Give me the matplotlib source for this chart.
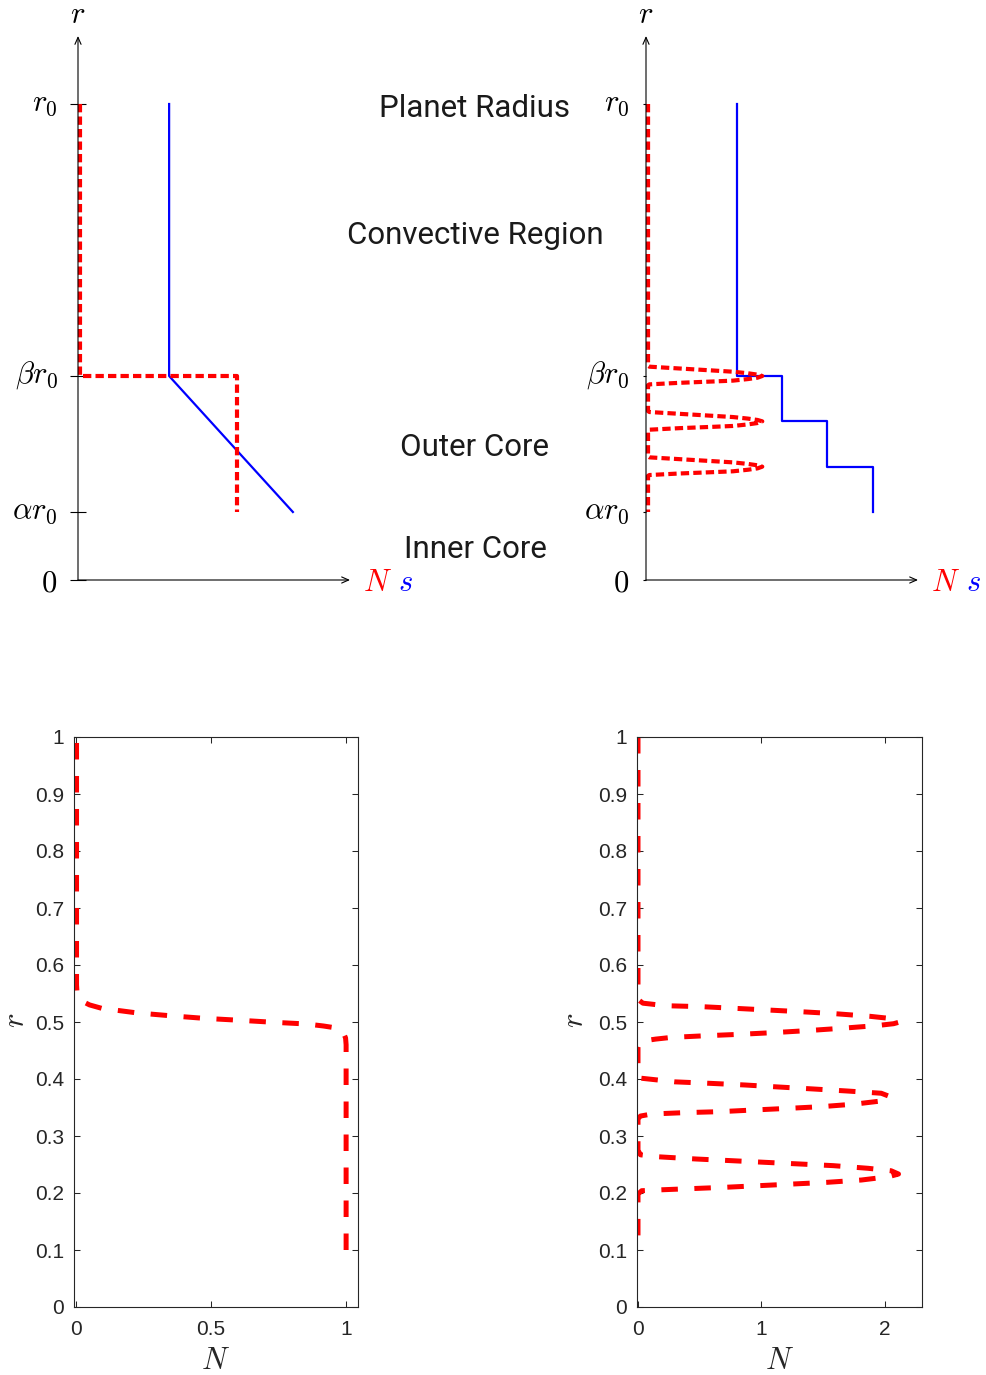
import matplotlib.pyplot as plt
from matplotlib.transforms import ScaledTranslation

plt.rcParams['mathtext.fontset'] = 'cm'
plt.rcParams['font.family'] = ['Liberation Sans', 'DejaVu Sans']

W, H = 987, 1375

# schematic radial levels (r0 = 7 units)
level_values = [0, 1, 3, 7]
level_labels = ['$0$', r'$\alpha r_0$', r'$\beta r_0$', '$r_0$']

# two-layer model: N (red) and s (blue)
n_two_x = [0.03, 0.03, 2.34, 2.34]
n_two_r = [7, 3, 3, 1]
s_two_x = [1.34, 1.34, 3.16]
s_two_r = [7, 3, 1]

# stepped model: s staircase and N spikes at each interface
s_step_x = [4 / 3, 4 / 3, 2, 2, 8 / 3, 8 / 3, 10 / 3, 10 / 3]
s_step_r = [7, 3, 3, 7 / 3, 7 / 3, 5 / 3, 5 / 3, 1]
interface_r = [3, 7 / 3, 5 / 3]
spike_n = [0.03, 0.05, 0.5, 1.0, 1.28, 1.5, 1.64, 1.71, 1.64, 1.5, 1.28, 1.0, 0.5, 0.05, 0.03]
spike_dr = [0.15, 0.137, 0.11, 0.08, 0.063, 0.04, 0.02, 0.0,
            -0.025, -0.045, -0.068, -0.08, -0.10, -0.123, -0.135]

region_names = ['Planet Radius', 'Convective Region', 'Outer Core', 'Inner Core']

# computed N(r), single interface
n_single = [1.0, 1.0, 0.998, 0.99, 0.975, 0.95, 0.916, 0.854, 0.731, 0.607, 0.472,
            0.348, 0.225, 0.095, 0.05, 0.025, 0.012, 0.004, 0.002, 0.002]
r_single = [0.10, 0.46, 0.472, 0.481, 0.487, 0.4905, 0.493, 0.4965, 0.4995, 0.503, 0.5065,
            0.511, 0.516, 0.524, 0.530, 0.536, 0.542, 0.55, 0.565, 1.0]

# computed N(r), three interfaces
n_multi = [0.0, 0.0, 0.01, 0.04, 0.10, 0.22, 0.515, 0.785, 1.055, 1.325, 1.595, 1.878, 2.03,
           2.10, 2.12, 2.07, 1.93, 1.65, 1.38, 1.11, 0.826, 0.556, 0.27, 0.143, 0.05, 0.01,
           0.0, 0.0, 0.02, 0.30, 0.583, 0.866, 1.136, 1.42, 1.69, 1.97, 2.03, 2.04, 2.03,
           1.757, 1.487, 1.217, 0.934, 0.664, 0.38, 0.111, 0.02, 0.0, 0.0, 0.02, 0.151,
           0.475, 0.759, 1.03, 1.31, 1.58, 1.865, 2.05, 2.11, 2.03, 1.81, 1.53, 1.257,
           0.974, 0.704, 0.421, 0.151, 0.03, 0.0, 0.0]
r_multi = [1.0, 0.55, 0.538, 0.533, 0.5316, 0.5286, 0.5269, 0.524, 0.521, 0.518, 0.5146,
           0.510, 0.5065, 0.503, 0.500, 0.497, 0.4936, 0.489, 0.485, 0.4815, 0.4784, 0.476,
           0.473, 0.470, 0.467, 0.463, 0.455, 0.41, 0.4015, 0.395, 0.3924, 0.3895, 0.386,
           0.3825, 0.379, 0.375, 0.370, 0.366, 0.363, 0.356, 0.3515, 0.3485, 0.3456,
           0.3427, 0.341, 0.3386, 0.335, 0.33, 0.275, 0.267, 0.2637, 0.2596, 0.2567,
           0.2538, 0.2509, 0.248, 0.2433, 0.239, 0.2333, 0.2286, 0.2228, 0.2187, 0.2158,
           0.2128, 0.21, 0.2076, 0.2053, 0.204, 0.198, 0.1]

r_ticks = [0, 0.1, 0.2, 0.3, 0.4, 0.5, 0.6, 0.7, 0.8, 0.9, 1]
r_ticklabels = ['0', '0.1', '0.2', '0.3', '0.4', '0.5', '0.6', '0.7', '0.8', '0.9', '1']


def px_rect(x0, y0, x1, y1):
    return [x0 / W, 1 - y1 / H, (x1 - x0) / W, (y1 - y0) / H]


def schematic_axes(fig, x0, tick_len, tick_dir, pad):
    ax = fig.add_axes(px_rect(x0, 36, x0 + 272, 580))
    ax.set_xlim(0, 4.0)
    ax.set_ylim(0, 8.0)
    for sp in ax.spines.values():
        sp.set_visible(False)
    ax.set_xticks([])
    ax.set_yticks(level_values, labels=level_labels)
    ax.tick_params(axis='y', direction=tick_dir, length=tick_len, width=0.8,
                   pad=pad, labelsize=22, color='black')
    # subscripted labels sit a little high on their ticks
    lift = ScaledTranslation(0, 3.5 / 72, fig.dpi_scale_trans)
    for lab in ax.get_yticklabels()[1:]:
        lab.set_transform(lab.get_transform() + lift)
    arrow = dict(arrowstyle='->,head_length=0.5,head_width=0.22', lw=0.8,
                 color='black', shrinkA=0, shrinkB=0)
    ax.annotate('', xy=(0, 8.0), xytext=(0, 0), arrowprops=arrow, annotation_clip=False)
    ax.annotate('', xy=(4.0, 0), xytext=(0, 0), arrowprops=arrow, annotation_clip=False)
    ax.annotate('$r$', xy=(0, 8.0), xytext=(0, 9.5), textcoords='offset points',
                ha='center', va='baseline', fontsize=22, annotation_clip=False)
    ax.annotate('$N$', xy=(4.0, 0), xytext=(9.5, -8), textcoords='offset points',
                ha='left', va='baseline', fontsize=22, color='red', annotation_clip=False)
    ax.annotate('$s$', xy=(4.0, 0), xytext=(34.5, -8), textcoords='offset points',
                ha='left', va='baseline', fontsize=22, color='blue', annotation_clip=False)
    return ax


def profile_axes(fig, x0, x1, xlim, xticks, xticklabels, ylabel_x):
    ax = fig.add_axes(px_rect(x0, 737, x1, 1307))
    ax.set_xlim(*xlim)
    ax.set_ylim(0, 1)
    ax.set_xticks(xticks, labels=xticklabels)
    ax.set_yticks(r_ticks, labels=r_ticklabels)
    ax.tick_params(direction='in', top=True, right=True, length=4.3, width=0.75,
                   color='#262626', labelcolor='#262626', labelsize=15)
    ax.tick_params(axis='y', pad=7)
    ax.tick_params(axis='x', pad=9.5)
    for sp in ax.spines.values():
        sp.set_color('#262626')
        sp.set_linewidth(0.8)
    ax.set_xlabel('$N$', fontsize=22, color='#262626')
    ax.set_ylabel('$r$', fontsize=22, color='#262626')
    ax.xaxis.set_label_coords(0.5, -0.095)
    ax.xaxis.label.set_va('center')
    ax.yaxis.set_label_coords(ylabel_x, 0.503)
    ax.yaxis.label.set_va('center')
    return ax


fig = plt.figure(figsize=(W / 100, H / 100), dpi=100)

# two-layer schematic
ax1 = schematic_axes(fig, 78, 11.5, 'inout', 9)
ax1.plot(s_two_x, s_two_r, color='blue', lw=1.6, clip_on=False)
ax1.plot(n_two_x, n_two_r, color='red', lw=3.0, ls=(0, (2.0, 1.0)), clip_on=False)

# stepped schematic
ax2 = schematic_axes(fig, 646, 2.5, 'out', 9.5)
ax2.plot(s_step_x, s_step_r, color='blue', lw=1.6, clip_on=False)
spike_x = [0.03]
spike_r = [7]
for rc in interface_r:
    spike_x += spike_n
    spike_r += [rc + d for d in spike_dr]
spike_x.append(0.03)
spike_r.append(1)
ax2.plot(spike_x, spike_r, color='red', lw=3.0, ls=(0, (2.0, 1.0)), clip_on=False)

# region names between the schematics
for name, base in zip(region_names, [117, 244, 456, 558]):
    fig.text(475 / W, 1 - base / H, name, ha='center', va='baseline', fontsize=22.5,
             family='Roboto', fontweight='normal', color='#1a1a1a')

# computed profiles
ax3 = profile_axes(fig, 74, 358, (-0.0074, 1.044), [0, 0.5, 1], ['0', '0.5', '1'], -0.205)
ax3.plot(n_single, r_single, color='red', lw=3.6, ls=(0, (3.3, 3.3)))

ax4 = profile_axes(fig, 637, 922, (-0.008, 2.3), [0, 1, 2], ['0', '1', '2'], -0.218)
ax4.plot(n_multi, r_multi, color='red', lw=3.6, ls=(0, (3.3, 3.3)))

fig.savefig('out.png', dpi=100)
